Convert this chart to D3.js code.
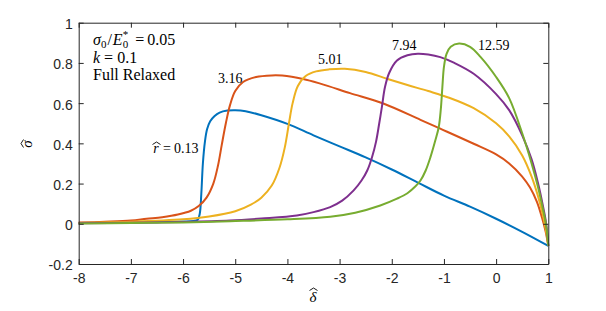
<!DOCTYPE html>
<html>
<head>
<meta charset="utf-8">
<script src="https://cdn.jsdelivr.net/npm/d3@7"></script>
<style>
  body { margin: 0; background: #fff; }
  svg { display: block; }
</style>
</head>
<body>
<script>
// r-hat values, one curve each
var rLabels = ['0.13', '3.16', '5.01', '7.94', '12.59'];
var colors = ['#0072BD', '#D95319', '#EDB120', '#7E2F8E', '#77AC30'];

var x013 = [-8, -7, -6.5, -6, -5.8, -5.72, -5.68, -5.65, -5.62, -5.58, -5.54, -5.48, -5.4, -5.3, -5.15, -5.0, -4.8, -4.5, -4.0, -3.5, -3, -2.5, -2, -1.5, -1, -0.5, 0, 0.5, 1];
var y013 = [0.004, 0.006, 0.008, 0.011, 0.014, 0.02, 0.05, 0.15, 0.3, 0.41, 0.47, 0.51, 0.535, 0.553, 0.563, 0.565, 0.56, 0.54, 0.497, 0.44, 0.385, 0.33, 0.27, 0.205, 0.14, 0.085, 0.025, -0.04, -0.11];

var x316 = [-8, -7.5, -7, -6.7, -6.4, -6.1, -5.85, -5.7, -5.55, -5.42, -5.33, -5.26, -5.18, -5.1, -5.0, -4.85, -4.6, -4.3, -4.1, -3.7, -3.37, -2.8, -2.15, -1.45, -1.07, -0.43, 0, 0.25, 0.5, 0.65, 0.78, 0.88, 0.95, 1];
var y316 = [0.006, 0.01, 0.016, 0.025, 0.033, 0.046, 0.065, 0.088, 0.13, 0.2, 0.29, 0.39, 0.5, 0.59, 0.66, 0.705, 0.73, 0.738, 0.737, 0.72, 0.697, 0.65, 0.597, 0.517, 0.473, 0.398, 0.345, 0.3, 0.235, 0.18, 0.11, 0.03, -0.04, -0.11];

var x501 = [-8, -7, -6, -5.5, -5, -4.7, -4.5, -4.3, -4.15, -4.05, -3.97, -3.9, -3.8, -3.65, -3.45, -3.2, -2.9, -2.5, -2.1, -1.7, -1.3, -0.9, -0.43, 0, 0.25, 0.5, 0.68, 0.8, 0.9, 0.96, 1];
var y501 = [0.004, 0.01, 0.022, 0.036, 0.062, 0.095, 0.13, 0.19, 0.28, 0.38, 0.5, 0.6, 0.685, 0.735, 0.758, 0.768, 0.771, 0.755, 0.722, 0.69, 0.66, 0.627, 0.575, 0.5, 0.435, 0.34, 0.235, 0.14, 0.04, -0.04, -0.11];

var x794 = [-8, -7, -6, -5.1, -4.5, -3.82, -3.5, -3.18, -2.95, -2.73, -2.58, -2.47, -2.38, -2.3, -2.24, -2.19, -2.13, -2.05, -1.9, -1.7, -1.5, -1.3, -1.07, -0.8, -0.43, 0, 0.25, 0.5, 0.68, 0.8, 0.9, 0.96, 1];
var y794 = [0.003, 0.005, 0.009, 0.016, 0.026, 0.041, 0.058, 0.083, 0.115, 0.166, 0.215, 0.265, 0.33, 0.41, 0.5, 0.58, 0.68, 0.75, 0.812, 0.838, 0.846, 0.842, 0.829, 0.8, 0.746, 0.645, 0.565, 0.44, 0.32, 0.205, 0.085, 0.0, -0.11];

var x1259 = [-8, -7, -6, -5.1, -4, -3.18, -2.7, -2.22, -1.9, -1.7, -1.55, -1.45, -1.35, -1.26, -1.17, -1.1, -1.06, -1.03, -1.0, -0.95, -0.87, -0.71, -0.5, -0.3, 0, 0.25, 0.5, 0.68, 0.8, 0.9, 0.96, 1];
var y1259 = [0.002, 0.004, 0.007, 0.013, 0.022, 0.035, 0.055, 0.091, 0.125, 0.152, 0.185, 0.215, 0.265, 0.33, 0.41, 0.48, 0.57, 0.68, 0.78, 0.845, 0.88, 0.896, 0.88, 0.83, 0.73, 0.625, 0.45, 0.3, 0.185, 0.07, -0.01, -0.11];

var seriesX = [x013, x316, x501, x794, x1259];
var seriesY = [y013, y316, y501, y794, y1259];

var xTicks = [-8, -7, -6, -5, -4, -3, -2, -1, 0, 1];
var yTicks = [-0.2, 0, 0.2, 0.4, 0.6, 0.8, 1];

var width = 606, height = 311;
var plotL = 78.7, plotR = 548.3, plotT = 22.7, plotB = 264;

var svg = d3.select('body').append('svg')
    .attr('width', width)
    .attr('height', height);

var x = d3.scaleLinear().domain([-8, 1]).range([plotL, plotR]);
var y = d3.scaleLinear().domain([-0.2, 1]).range([plotB, plotT]);

var axisColor = '#262626';
var tickFont = '"Liberation Sans", Arial, sans-serif';
var serif = '"Liberation Serif", "Times New Roman", serif';

// MATLAB style labels use a plain hyphen
function num(d) { return String(+d.toFixed(1)); }

// curves
var line = d3.line()
    .x(function(d) { return x(d[0]); })
    .y(function(d) { return y(d[1]); })
    .curve(d3.curveCatmullRom.alpha(0.5));

for (var i = 0; i < seriesX.length; i++) {
    var pts = seriesX[i].map(function(v, j) { return [v, seriesY[i][j]]; });
    svg.append('path')
        .datum(pts)
        .attr('d', line)
        .attr('fill', 'none')
        .attr('stroke', colors[i])
        .attr('stroke-width', 2)
        .attr('stroke-linejoin', 'round');
}

// axes, ticks inside, box on
var bottomAxis = d3.axisBottom(x).tickValues(xTicks).tickSizeInner(-5).tickSizeOuter(0).tickFormat(num);
var topAxis = d3.axisTop(x).tickValues(xTicks).tickSizeInner(-5).tickSizeOuter(0).tickFormat('');
var leftAxis = d3.axisLeft(y).tickValues(yTicks).tickSizeInner(-5).tickSizeOuter(0).tickFormat(num);
var rightAxis = d3.axisRight(y).tickValues(yTicks).tickSizeInner(-5).tickSizeOuter(0).tickFormat('');

function styleAxis(g) {
    g.selectAll('path').attr('stroke', axisColor).attr('stroke-width', 1);
    g.selectAll('line').attr('stroke', axisColor).attr('stroke-width', 1);
    g.selectAll('text').attr('fill', axisColor)
        .style('font-family', tickFont).style('font-size', '14px');
}

svg.append('g').attr('transform', 'translate(0,' + plotB + ')').call(bottomAxis).call(styleAxis)
    .selectAll('text').attr('y', 9);
svg.append('g').attr('transform', 'translate(0,' + plotT + ')').call(topAxis).call(styleAxis);
svg.append('g').attr('transform', 'translate(' + plotL + ',0)').call(leftAxis).call(styleAxis)
    .selectAll('text').attr('x', -6).attr('dy', '0.42em');
svg.append('g').attr('transform', 'translate(' + plotR + ',0)').call(rightAxis).call(styleAxis);

// a glyph with a hat drawn over it
function hatted(g, cx, by, ch, size, lift) {
    g.append('text')
        .attr('x', cx).attr('y', by)
        .attr('text-anchor', 'middle')
        .style('font-family', serif).style('font-size', size + 'px').style('font-style', 'italic')
        .text(ch);
    g.append('path')
        .attr('d', 'M' + (cx - 3.5) + ',' + (by - lift + 2.5) + 'L' + (cx + 0.5) + ',' + (by - lift) +
            'L' + (cx + 4.5) + ',' + (by - lift + 2.5))
        .attr('fill', 'none').attr('stroke', '#000').attr('stroke-width', 0.9);
}

// axis labels
var xl = svg.append('g').attr('fill', '#000');
hatted(xl, 313, 302, '\u03B4', 15, 14);

var yl = svg.append('g').attr('fill', '#000').attr('transform', 'translate(32,144) rotate(-90)');
hatted(yl, 0, 0, '\u03C3', 15, 11);

// parameter box
var note = svg.append('g')
    .style('font-family', serif).style('font-size', '16px').attr('fill', '#000');

var t1 = note.append('text').attr('x', 93).attr('y', 45);
t1.append('tspan').style('font-style', 'italic').text('\u03C3');
t1.append('tspan').attr('dy', 3).style('font-size', '11px').text('0');
t1.append('tspan').attr('dx', 1).attr('dy', -3).text('/');
t1.append('tspan').attr('dx', 1).style('font-style', 'italic').text('E');
t1.append('tspan').attr('dy', -7).style('font-size', '11px').text('*');
t1.append('tspan').attr('dx', -5.5).attr('dy', 10).style('font-size', '11px').text('0');
t1.append('tspan').attr('dx', 7).attr('dy', -3).text('=');
t1.append('tspan').attr('dx', 3).text('0.05');

var t2 = note.append('text').attr('x', 93).attr('y', 63);
t2.append('tspan').style('font-style', 'italic').text('k');
t2.append('tspan').attr('dx', 4).text('=');
t2.append('tspan').attr('dx', 4).text('0.1');

note.append('text').attr('x', 93).attr('y', 80).text('Full Relaxed');

// curve labels
var labelX = [163, 218, 318, 392, 478];
var labelY = [153, 83, 64, 50, 50];
for (var k = 0; k < rLabels.length; k++) {
    if (k === 0) {
        var g0 = svg.append('g').attr('fill', '#000');
        hatted(g0, 156, labelY[k], 'r', 14, 11);
        var t0 = g0.append('text')
            .attr('x', labelX[k]).attr('y', labelY[k])
            .style('font-family', serif).style('font-size', '14px');
        t0.append('tspan').text('=');
        t0.append('tspan').attr('dx', 3).text(rLabels[k]);
    } else {
        svg.append('text')
            .attr('x', labelX[k]).attr('y', labelY[k])
            .style('font-family', serif).style('font-size', '14px')
            .attr('fill', '#000')
            .text(rLabels[k]);
    }
}
</script>
</body>
</html>
